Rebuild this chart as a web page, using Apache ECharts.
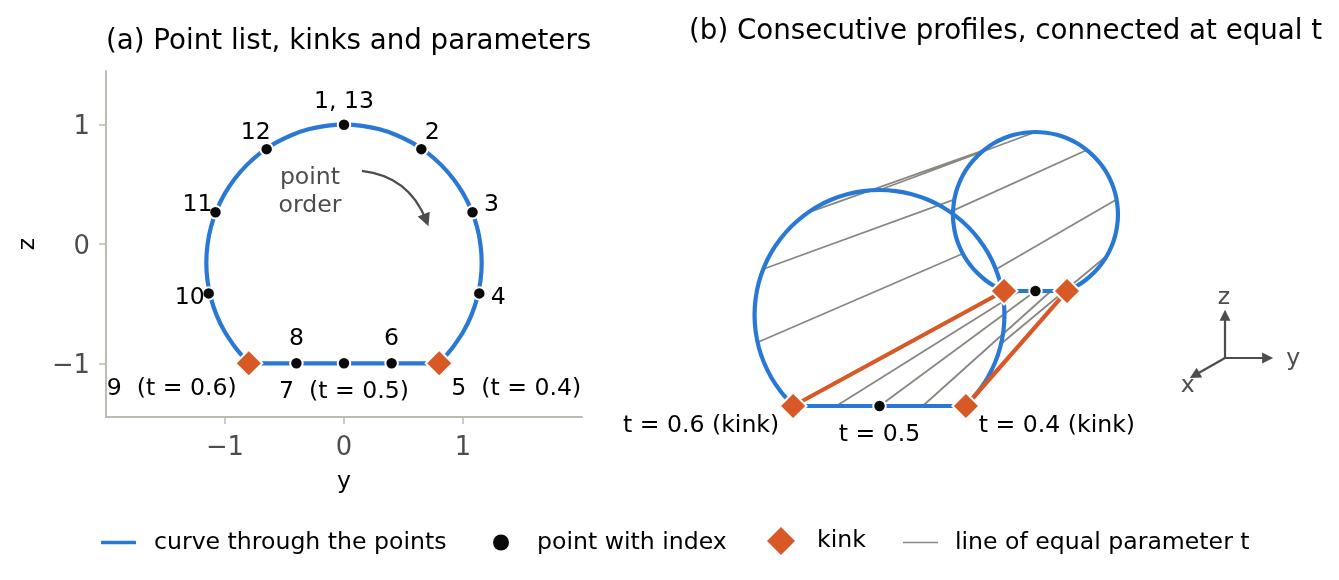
<!DOCTYPE html>
<html>
<head>
    <meta charset="utf-8" />
    <script src="https://cdn.jsdelivr.net/npm/echarts@6/dist/echarts.min.js"></script>
    <style>
        html, body { margin: 0; padding: 0; background: #fff; }
    </style>
</head>
<body>
    <div id="main" style="width:1339px;height:580px;"></div>
    <script>
        // profile in the y-z plane: the 12 numbered points, kinks at 5 and 9
        var pointY = [0, 0.65, 1.08, 1.137, 0.8, 0.4, 0, -0.4, -0.8, -1.137, -1.08, -0.65];
        var pointZ = [1, 0.795, 0.266, -0.414, -1, -1, -1, -1, -1, -0.414, 0.266, 0.795];
        var pointNames = ['1, 13', '2', '3', '4', '5  (t = 0.4)', '6', '7  (t = 0.5)', '8', '9  (t = 0.6)', '10', '11', '12'];

        // rounded part of the first profile, from kink 5 over the top to kink 9
        var arcY = [0.8, 0.86, 0.918, 1.002, 1.069, 1.118, 1.147, 1.157, 1.147, 1.118, 1.069, 1.002, 0.918, 0.818, 0.704, 0.579, 0.443, 0.299, 0.151, 0,
            -0.151, -0.299, -0.443, -0.579, -0.704, -0.818, -0.918, -1.002, -1.069, -1.118, -1.147, -1.157, -1.147, -1.118, -1.069, -1.002, -0.918, -0.86, -0.8];
        var arcZ = [-1, -0.931, -0.861, -0.736, -0.6, -0.456, -0.308, -0.157, -0.006, 0.142, 0.286, 0.422, 0.547, 0.661, 0.761, 0.845, 0.912, 0.961, 0.99, 1,
            0.99, 0.961, 0.912, 0.845, 0.761, 0.661, 0.547, 0.422, 0.286, 0.142, -0.006, -0.157, -0.308, -0.456, -0.6, -0.736, -0.861, -0.931, -1];
        var flatY = [-0.8, 0.8];
        var flatZ = [-1, -1];

        // second profile as seen in the projection of panel (b)
        var backArcY = [1.736, 1.826, 1.909, 1.984, 2.05, 2.106, 2.15, 2.182, 2.201, 2.208, 2.201, 2.182, 2.15, 2.106, 2.05, 1.984, 1.909, 1.826, 1.736, 1.642, 1.544, 1.444,
            1.344, 1.246, 1.152, 1.062, 0.979, 0.904, 0.838, 0.782, 0.738, 0.706, 0.687, 0.68, 0.687, 0.706, 0.738, 0.782, 0.838, 0.904, 0.979, 1.062, 1.153];
        var backArcZ = [0.065, 0.111, 0.167, 0.233, 0.308, 0.391, 0.481, 0.575, 0.673, 0.773, 0.873, 0.971, 1.065, 1.155, 1.238, 1.313, 1.379, 1.435, 1.479, 1.511, 1.53, 1.537,
            1.53, 1.511, 1.479, 1.435, 1.379, 1.313, 1.238, 1.155, 1.065, 0.971, 0.873, 0.773, 0.673, 0.575, 0.481, 0.391, 0.308, 0.233, 0.167, 0.111, 0.065];
        var backFlatY = [1.153, 1.736];
        var backFlatZ = [0.065, 0.065];
        var backPointY = [1.444, 1.92, 2.19, 2.125, 1.736, 1.588, 1.444, 1.3, 1.153, 0.764, 0.69, 0.968];
        var backPointZ = [1.537, 1.37, 0.91, 0.407, 0.065, 0.065, 0.065, 0.065, 0.065, 0.407, 0.91, 1.37];

        var tickValues = [-1, 0, 1];
        var kinkIndex = [4, 8];
        var midIndex = 6;
        var kinkNames = ['t = 0.4 (kink)', 't = 0.6 (kink)'];
        var midName = 't = 0.5';

        var BLUE = '#2a78d6', ORANGE = '#d95926', GRAY = '#888880', DARK = '#4d4d4d', BLACK = '#0a0a0a', AXIS = '#bcbcb0';
        var FONT = '"DejaVu Sans"';
        var TEXT_SIZE = 23.6;

        // label offsets in pixels, one per point
        var pointOffsets = [[0, -23], [11, -16], [19, -7], [19, 4], [77, 26], [0, -24], [0, 29], [0, -24], [-77, 26], [-19, 4], [-18, -7], [-11, -16]];
        var kinkOffsets = [[91, 20], [-92, 20]];

        function zip(a, b) {
            return a.map(function (v, i) { return [v, b[i]]; });
        }

        // one polyline with gaps: first profile point -> second profile point
        function equalTLines() {
            var out = [];
            pointY.forEach(function (v, i) {
                if (kinkIndex.indexOf(i) >= 0) return;
                out.push([v, pointZ[i]], [backPointY[i], backPointZ[i]], [null, null]);
            });
            return out;
        }

        function pointLabel(text, offset) {
            return { show: true, position: 'inside', offset: offset, formatter: text, color: '#000', fontFamily: FONT, fontSize: TEXT_SIZE };
        }

        function curveSeries(name, axis, y, z, smooth) {
            return {
                name: name, type: 'line', xAxisIndex: axis, yAxisIndex: axis, data: zip(y, z),
                showSymbol: false, smooth: smooth, z: 3, silent: true,
                lineStyle: { color: BLUE, width: 4.2, cap: 'butt' }, itemStyle: { color: BLUE }
            };
        }

        function textSeries(axis, items, color) {
            return {
                type: 'scatter', xAxisIndex: axis, yAxisIndex: axis, symbolSize: 1, z: 6, silent: true,
                itemStyle: { color: 'transparent', opacity: 1 },
                label: { show: true, position: 'inside', color: color, fontFamily: FONT, fontSize: TEXT_SIZE, lineHeight: 27.5, formatter: function (p) { return p.data[2]; } },
                data: items
            };
        }

        function arrowSeries(axis, data, curveness, size) {
            return {
                type: 'lines', coordinateSystem: 'cartesian2d', xAxisIndex: axis, yAxisIndex: axis, z: 5, silent: true,
                symbol: ['none', 'triangle'], symbolSize: size,
                lineStyle: { color: DARK, width: 2.2, curveness: curveness, opacity: 1 },
                data: data
            };
        }

        var dots = [];
        pointY.forEach(function (v, i) {
            if (kinkIndex.indexOf(i) >= 0) return;
            dots.push({ value: [v, pointZ[i]], label: pointLabel(pointNames[i], pointOffsets[i]) });
        });

        var dotStyle = { color: BLACK, borderColor: '#fff', borderWidth: 2, opacity: 1 };
        var kinkStyle = { color: ORANGE, borderColor: '#fff', borderWidth: 2, opacity: 1 };
        var tick = { show: true, length: 7, lineStyle: { color: AXIS, width: 1.5 }, customValues: tickValues };
        var axisLine = { show: true, onZero: false, lineStyle: { color: AXIS, width: 2 } };
        var hidden = { show: false };

        function minusSign(v) {
            return String(v).replace('-', '\u2212');
        }

        var xTickLabel = { color: DARK, fontFamily: FONT, fontSize: 25.8, customValues: tickValues, margin: 18, formatter: minusSign };
        // rich text so the padding nudges the number down onto its tick
        var yTickLabel = {
            customValues: tickValues, margin: 16,
            formatter: function (v) { return '{t|' + minusSign(v) + '}'; },
            rich: { t: { color: DARK, fontFamily: FONT, fontSize: 25.8, padding: [6, 0, 0, 0] } }
        };

        function legendAt(left, top, name, icon, w, h, color, padding) {
            return {
                left: left, top: top, orient: 'horizontal', selectedMode: false, padding: 0,
                itemWidth: w, itemHeight: h, icon: icon,
                itemStyle: { color: color, borderWidth: 0, opacity: 1 }, lineStyle: { width: 0 },
                textStyle: { color: '#000', fontFamily: FONT, fontSize: TEXT_SIZE, padding: padding },
                data: [name]
            };
        }

        var titleStyle = { color: '#000', fontFamily: FONT, fontSize: 27.7, fontWeight: 'normal' };
        var nameStyle = { color: '#000', fontFamily: FONT, fontSize: TEXT_SIZE };

        var option = {
            animation: false,
            backgroundColor: '#fff',
            title: [
                { text: '(a) Point list, kinks and parameters', left: 106, top: 28, padding: 0, textStyle: titleStyle },
                { text: '(b) Consecutive profiles, connected at equal t', left: 689, top: 18, padding: 0, textStyle: titleStyle }
            ],
            legend: [
                legendAt(101, 530.5, 'curve through the points', 'roundRect', 35, 3.6, BLUE, [0, 0, 0, 13]),
                legendAt(493, 530.5, 'point with index', 'circle', 16, 16, BLACK, [0, 0, 0, 23]),
                legendAt(767, 527, 'kink', 'diamond', 28, 28, ORANGE, [7, 0, 0, 17]),
                legendAt(903, 530.5, 'line of equal parameter t', 'rect', 35, 1.6, GRAY, [0, 0, 0, 12])
            ],
            grid: [
                { left: 106, top: 71, width: 476, height: 346 },
                { left: 609.5, top: 92.8, width: 702, height: 356.4 }
            ],
            xAxis: [
                { type: 'value', min: -2, max: 2, name: 'y', nameLocation: 'middle', nameGap: 53, nameTextStyle: nameStyle, splitLine: hidden, axisLine: axisLine, axisTick: tick, axisLabel: xTickLabel, gridIndex: 0 },
                { type: 'value', min: -2.5, max: 4, show: false, splitLine: hidden, gridIndex: 1 }
            ],
            yAxis: [
                { type: 'value', min: -1.45, max: 1.45, name: 'z', nameLocation: 'middle', nameGap: 66, nameRotate: 90, nameTextStyle: nameStyle, splitLine: hidden, axisLine: axisLine, axisTick: tick, axisLabel: yTickLabel, gridIndex: 0 },
                { type: 'value', min: -1.4, max: 1.9, show: false, splitLine: hidden, gridIndex: 1 }
            ],
            series: [
                curveSeries('curve through the points', 0, arcY, arcZ, 0.33),
                curveSeries('curve through the points', 0, flatY, flatZ, false),
                {
                    name: 'point with index', type: 'scatter', xAxisIndex: 0, yAxisIndex: 0, symbolSize: 12.5, z: 5, silent: true,
                    itemStyle: dotStyle, data: dots
                },
                {
                    name: 'kink', type: 'scatter', xAxisIndex: 0, yAxisIndex: 0, symbol: 'diamond', symbolSize: 27, z: 5, silent: true,
                    itemStyle: kinkStyle,
                    data: kinkIndex.map(function (i) {
                        return { value: [pointY[i], pointZ[i]], label: pointLabel(pointNames[i], pointOffsets[i]) };
                    })
                },
                textSeries(0, [[-0.286, 0.435, 'point\norder']], DARK),
                arrowSeries(0, [{ coords: [[0.15, 0.613], [0.69, 0.2]] }], 0.3, [11, 13]),

                {
                    name: 'line of equal parameter t', type: 'line', xAxisIndex: 1, yAxisIndex: 1, data: equalTLines(),
                    showSymbol: false, connectNulls: false, z: 2, silent: true,
                    lineStyle: { color: GRAY, width: 1.8 }, itemStyle: { color: GRAY }
                },
                curveSeries('curve through the points', 1, arcY, arcZ, 0.33),
                curveSeries('curve through the points', 1, flatY, flatZ, false),
                curveSeries('curve through the points', 1, backArcY, backArcZ, 0.33),
                curveSeries('curve through the points', 1, backFlatY, backFlatZ, false)
            ].concat(kinkIndex.map(function (i) {
                return {
                    type: 'line', xAxisIndex: 1, yAxisIndex: 1, showSymbol: false, z: 4, silent: true,
                    data: [[pointY[i], pointZ[i]], [backPointY[i], backPointZ[i]]],
                    lineStyle: { color: ORANGE, width: 4.2 }
                };
            })).concat([
                {
                    name: 'point with index', type: 'scatter', xAxisIndex: 1, yAxisIndex: 1, symbolSize: 12.5, z: 5, silent: true,
                    itemStyle: dotStyle,
                    data: [
                        { value: [pointY[midIndex], pointZ[midIndex]], label: pointLabel(midName, [0, 29]) },
                        [backPointY[midIndex], backPointZ[midIndex]]
                    ]
                },
                {
                    name: 'kink', type: 'scatter', xAxisIndex: 1, yAxisIndex: 1, symbol: 'diamond', symbolSize: 27, z: 5, silent: true,
                    itemStyle: kinkStyle,
                    data: kinkIndex.map(function (i, k) {
                        return { value: [pointY[i], pointZ[i]], label: pointLabel(kinkNames[k], kinkOffsets[k]) };
                    }).concat(kinkIndex.map(function (i) { return [backPointY[i], backPointZ[i]]; }))
                },
                arrowSeries(1, [
                    { coords: [[3.199, -0.556], [3.199, -0.16]] },
                    { coords: [[3.199, -0.556], [3.594, -0.556]] },
                    { coords: [[3.199, -0.556], [2.918, -0.716]] }
                ], 0, [10, 11]),
                textSeries(1, [[3.19, -0.002, 'z'], [3.83, -0.566, 'y'], [2.855, -0.815, 'x']], DARK)
            ])
        };

        var myChart = echarts.init(document.getElementById('main'), null, { renderer: 'canvas' });
        myChart.setOption(option);
    </script>
</body>
</html>
